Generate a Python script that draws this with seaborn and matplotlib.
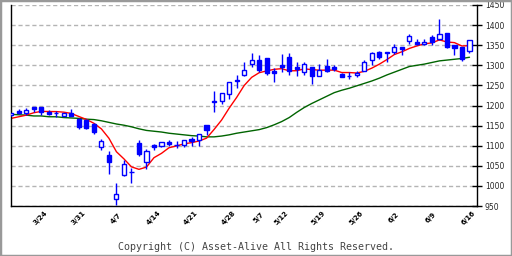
import matplotlib
matplotlib.use("Agg")
import matplotlib.pyplot as plt
import seaborn as sns
import pandas as pd
from matplotlib.patches import Rectangle

# ---- data ----
opens = [1176, 1187, 1182, 1196, 1196, 1184, 1182, 1175, 1181, 1166,
         1165, 1154, 1096, 1076, 967, 1026, 1035, 1106, 1059, 1102,
         1100, 1108, 1101, 1102, 1117, 1113, 1151, 1209, 1212, 1229,
         1264, 1276, 1302, 1313, 1317, 1287, 1300, 1321, 1296, 1284,
         1296, 1274, 1298, 1295, 1279, 1273, 1275, 1287, 1312, 1333,
         1332, 1334, 1345, 1360, 1358, 1352, 1370, 1365, 1380, 1350,
         1345, 1335]
highs = [1182, 1191, 1193, 1197, 1197, 1188, 1187, 1182, 1191, 1168,
         1167, 1156, 1116, 1087, 1008, 1064, 1044, 1114, 1092, 1103,
         1109, 1113, 1111, 1114, 1121, 1129, 1152, 1236, 1231, 1259,
         1275, 1308, 1331, 1326, 1318, 1293, 1328, 1331, 1308, 1308,
         1297, 1302, 1316, 1300, 1281, 1283, 1285, 1313, 1334, 1336,
         1333, 1353, 1346, 1377, 1365, 1365, 1376, 1415, 1381, 1351,
         1346, 1363]
lows = [1175, 1178, 1177, 1184, 1176, 1176, 1172, 1174, 1174, 1142,
        1142, 1130, 1089, 1029, 953, 1025, 1008, 1075, 1041, 1090,
        1097, 1099, 1095, 1098, 1099, 1099, 1127, 1184, 1204, 1215,
        1244, 1273, 1296, 1284, 1276, 1259, 1284, 1277, 1274, 1277,
        1254, 1273, 1283, 1286, 1271, 1266, 1270, 1285, 1300, 1315,
        1308, 1328, 1325, 1354, 1350, 1350, 1351, 1363, 1343, 1326,
        1311, 1331]
closes = [1181, 1182, 1188, 1191, 1185, 1179, 1181, 1181, 1175, 1147,
          1143, 1133, 1111, 1059, 979, 1054, 1034, 1080, 1087, 1096,
          1108, 1104, 1102, 1113, 1111, 1128, 1140, 1210, 1230, 1258,
          1262, 1288, 1312, 1288, 1280, 1282, 1296, 1285, 1290, 1302,
          1274, 1288, 1286, 1290, 1272, 1274, 1282, 1307, 1330, 1321,
          1331, 1345, 1341, 1372, 1352, 1357, 1357, 1378, 1346, 1344,
          1315, 1362]
ma_short = [1168, 1172, 1176, 1182, 1185.4, 1185.0, 1184.8, 1183.4, 1180.2, 1172.6,
            1165.4, 1155.8, 1141.8, 1118.6, 1085.0, 1067.2, 1047.4, 1041.2, 1046.8, 1070.2,
            1081.0, 1095.0, 1099.4, 1104.6, 1107.6, 1111.6, 1118.8, 1140.4, 1163.8, 1193.2,
            1220.0, 1249.6, 1270.0, 1281.6, 1286.0, 1290.0, 1291.6, 1286.2, 1286.6, 1291.0,
            1289.4, 1287.8, 1288.0, 1288.0, 1282.0, 1282.0, 1280.8, 1285.0, 1293.0, 1302.8,
            1314.2, 1326.8, 1333.6, 1342.0, 1348.2, 1353.4, 1355.8, 1363.2, 1358.0, 1356.4,
            1348.0, 1349.0]
ma_long = [1178, 1177, 1176, 1174, 1174, 1172, 1172, 1170, 1169, 1168,
           1166, 1165, 1162, 1158, 1154, 1151, 1147, 1142, 1138, 1136,
           1134, 1131, 1129, 1127, 1125, 1124, 1122, 1122, 1124, 1127,
           1131, 1134, 1137, 1140, 1145, 1152, 1160, 1170, 1183, 1195,
           1205, 1214, 1223, 1232, 1238, 1243, 1249, 1255, 1261, 1268,
           1276, 1283, 1290, 1297, 1300, 1303, 1307, 1311, 1313, 1315,
           1317, 1320]
# weekly tick marks (every 5 sessions) and date labels at their trading-day index
tick_positions = [5, 10, 15, 20, 25, 30, 35, 40, 45, 50, 55, 60]
label_days = [3, 8, 13, 18, 23, 28, 32, 35, 40, 45, 50, 55, 60]
tick_labels = ["3/24", "3/31", "4/7", "4/14", "4/21", "4/28", "5/7",
               "5/12", "5/19", "5/26", "6/2", "6/9", "6/16"]
y_ticks = [950, 1000, 1050, 1100, 1150, 1200, 1250, 1300, 1350, 1400, 1450]

# ---- figure ----
sns.set_style("white")
plt.rcParams["font.family"] = ["DejaVu Sans"]

n = len(closes)
df = pd.DataFrame({"i": range(n), "open": opens, "high": highs, "low": lows,
                   "close": closes, "ma_s": ma_short, "ma_l": ma_long})

fig = plt.figure(figsize=(5.12, 2.56), dpi=100)
ax = fig.add_axes([10.5 / 512, 50 / 256, 466.5 / 512, 201 / 256])

blue = "#0000ff"
# moving averages
sns.lineplot(data=df, x="i", y="ma_l", ax=ax, color="#006400", lw=1.0, zorder=2)
sns.lineplot(data=df, x="i", y="ma_s", ax=ax, color="#ff0000", lw=1.0, zorder=2)

# wicks
ax.vlines(df["i"], df["low"], df["high"], color=blue, lw=1.0, zorder=3)
# bodies
up = df[df["close"] >= df["open"]]
dn = df[df["close"] < df["open"]]
ax.bar(up["i"], (up["close"] - up["open"]).clip(lower=0.5), bottom=up["open"],
       width=0.55, facecolor="white", edgecolor=blue, lw=1.0, zorder=4)
ax.bar(dn["i"], (dn["open"] - dn["close"]).clip(lower=0.5), bottom=dn["close"],
       width=0.55, facecolor=blue, edgecolor=blue, lw=1.0, zorder=4)

ax.set_xlim(-0.1, 62.0)
ax.set_ylim(950, 1450)
ax.set_xlabel("")
ax.set_ylabel("")

ax.yaxis.tick_right()
ax.set_yticks(y_ticks)
ax.set_yticklabels([str(v) for v in y_ticks])
ax.tick_params(axis="y", direction="inout", length=6.5, width=1, color="black",
               labelsize=5.5, pad=2.5, right=True, left=False)

ax.set_xticks(tick_positions)
ax.set_xticklabels([])
ax.tick_params(axis="x", direction="inout", length=5.0, width=1, color="black")
for d, lab in zip(label_days, tick_labels):
    ax.text(d + 0.9, -0.06, lab, transform=ax.get_xaxis_transform(),
            rotation=45, ha="center", va="center", rotation_mode="default",
            fontsize=5, fontweight="bold", color="black", clip_on=False)

ax.yaxis.grid(True, color="#b4b4b4", linestyle=(0, (3, 2)), lw=1.0)
ax.xaxis.grid(False)
for s in ["left", "bottom", "right"]:
    ax.spines[s].set_visible(True)
    ax.spines[s].set_color("black")
    ax.spines[s].set_linewidth(1.0)
ax.spines["top"].set_visible(False)

fig.text(0.5, 1 - 246.5 / 256, "Copyright (C) Asset-Alive All Rights Reserved.",
         ha="center", va="center", fontsize=7.2, family="DejaVu Sans Mono",
         color="#444444")

fig.patches.append(Rectangle((0, 0), 1, 1, transform=fig.transFigure, fill=False,
                             edgecolor="#999999", lw=2.5, zorder=10))

fig.savefig("out.png", dpi=100)
